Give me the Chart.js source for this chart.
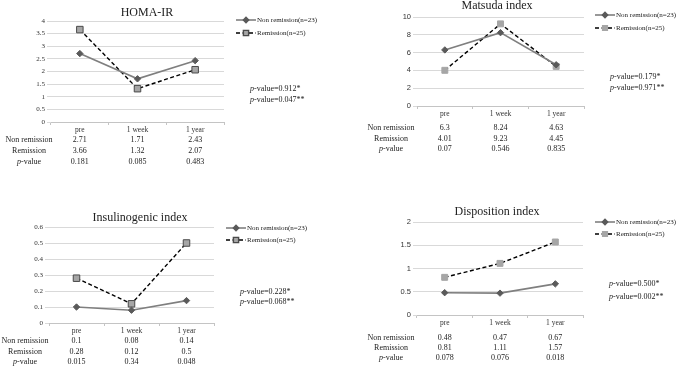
<!DOCTYPE html>
<html>
<head>
<meta charset="utf-8">
<script src="https://cdn.jsdelivr.net/npm/chart.js@4"></script>
<style>
body{margin:0;background:#fff}
#wrap{position:relative;width:678px;height:368px;overflow:hidden;background:#fff;font-family:"Liberation Serif","Times New Roman",serif;color:#222}
canvas{position:absolute}
.t{position:absolute;white-space:nowrap;line-height:1}
</style>
</head>
<body>
<div id="wrap"></div>
<script>
// data
const timePoints = ['pre', '1 week', '1 year']
const rowNames = ['Non remission', 'Remission']
const legendNames = ['Non remission(n=23)', 'Remission(n=25)']

const homaNon = [2.71, 1.71, 2.43]
const homaRem = [3.66, 1.32, 2.07]
const homaP = ['0.181', '0.085', '0.483']
const homaNotes = ['0.912*', '0.047**']

const matsudaNon = [6.3, 8.24, 4.63]
const matsudaRem = [4.01, 9.23, 4.45]
const matsudaP = ['0.07', '0.546', '0.835']
const matsudaNotes = ['0.179*', '0.971**']

const insNon = [0.1, 0.08, 0.14]
const insRem = [0.28, 0.12, 0.5]
const insP = ['0.015', '0.34', '0.048']
const insNotes = ['0.228*', '0.068**']

const dispNon = [0.48, 0.47, 0.67]
const dispRem = [0.81, 1.11, 1.57]
const dispP = ['0.078', '0.076', '0.018']
const dispNotes = ['0.500*', '0.002**']

const serif = '"Liberation Serif", "Times New Roman", serif'
const sans = '"Liberation Sans", Arial, sans-serif'
const wrap = document.getElementById('wrap')

function addText(html, x, y, size, align) {
    const d = document.createElement('div')
    d.className = 't'
    d.innerHTML = html
    d.style.left = x + 'px'
    d.style.top = y + 'px'
    d.style.fontSize = size + 'px'
    let tx = align == 'center' ? '-50%' : (align == 'right' ? '-100%' : '0')
    d.style.transform = 'translate(' + tx + ',-50%)'
    wrap.appendChild(d)
}

function panel(p) {
    const cv = document.createElement('canvas')
    cv.width = p.box[2]
    cv.height = p.box[3]
    cv.style.left = p.box[0] + 'px'
    cv.style.top = p.box[1] + 'px'
    wrap.appendChild(cv)

    // small line+marker samples for the legend
    const legendSample = {
        id: 'legendSample',
        afterDraw(chart) {
            const ctx = chart.ctx
            chart.data.datasets.forEach((ds, i) => {
                const y = p.legY[i]
                const x0 = p.legX, x1 = p.legX + 20
                ctx.save()
                ctx.strokeStyle = ds.borderColor
                ctx.lineWidth = ds.borderWidth
                ctx.setLineDash(ds.borderDash || [])
                ctx.beginPath()
                ctx.moveTo(x0, y)
                ctx.lineTo(x1, y)
                ctx.stroke()
                ctx.setLineDash([])
                ctx.fillStyle = ds.pointBackgroundColor
                ctx.strokeStyle = ds.pointBorderColor
                Chart.helpers.drawPoint(ctx, {pointStyle: ds.pointStyle, radius: ds.pointRadius * 0.8, rotation: 0, borderWidth: ds.pointBorderWidth}, (x0 + x1) / 2, y)
                ctx.restore()
            })
        }
    }

    const tickFont = {family: p.tickSans ? sans : serif, size: p.tickSans ? 7.5 : 7}
    const chart = new Chart(cv, {
        type: 'line',
        data: {
            labels: timePoints,
            datasets: [
                {
                    label: legendNames[0],
                    data: p.non,
                    borderColor: '#7f7f7f',
                    borderWidth: 1.6,
                    pointStyle: 'rectRot',
                    pointRadius: 3.2,
                    pointBackgroundColor: '#5a5a5a',
                    pointBorderColor: '#5a5a5a',
                    pointBorderWidth: 1,
                    tension: 0
                },
                {
                    label: legendNames[1],
                    data: p.rem,
                    borderColor: '#000',
                    borderWidth: 1.4,
                    borderDash: [4, 2.5],
                    pointStyle: 'rect',
                    pointRadius: p.sqR,
                    pointBackgroundColor: '#a6a6a6',
                    pointBorderColor: p.sqBorder,
                    pointBorderWidth: 1,
                    tension: 0
                }
            ]
        },
        options: {
            responsive: false,
            animation: false,
            layout: {padding: {left: 0, top: p.area[2], right: p.box[2] - p.area[1], bottom: p.box[3] - p.area[3] - 20}},
            plugins: {legend: {display: false}, tooltip: {enabled: false}},
            scales: {
                x: {
                    offset: true,
                    grid: {display: true, drawOnChartArea: false, offset: true, tickLength: 3, color: '#c4c4c4'},
                    border: {color: '#c4c4c4'},
                    ticks: {font: {family: serif, size: 7.5}, color: '#333', padding: 1, maxRotation: 0},
                    afterFit(s) { s.height = 20 }
                },
                y: {
                    min: 0,
                    max: p.ymax,
                    ticks: {stepSize: p.step, font: tickFont, color: '#333', padding: 2, callback: v => String(+v.toFixed(2))},
                    grid: {color: '#d9d9d9', tickLength: 4},
                    border: {display: false},
                    afterFit(s) { s.width = p.area[0] }
                }
            }
        },
        plugins: [legendSample]
    })

    const bx = p.box[0], by = p.box[1]
    addText(p.title, bx + p.titleXY[0], by + p.titleXY[1], 12, 'center')
    legendNames.forEach((n, i) => addText(n, bx + p.legX + 21, by + p.legY[i], 7, 'left'))
    p.notes.forEach((n, i) => addText('<i>p</i>-value=' + n, bx + p.noteX, by + p.noteY[i], 8, 'left'))

    const rows = [p.non.map(String), p.rem.map(String), p.pv]
    const names = [rowNames[0], rowNames[1], '<i>p</i>-value']
    rows.forEach((vals, r) => {
        addText(names[r], bx + p.labelX, by + p.rows[r], 8, 'center')
        vals.forEach((v, i) => {
            const x = chart.scales.x.getPixelForValue(i)
            addText(v, bx + x, by + p.rows[r], 8, 'center')
        })
    })
}

panel({
    title: 'HOMA-IR', non: homaNon, rem: homaRem, pv: homaP, notes: homaNotes, ymax: 4, step: 0.5,
    box: [0, 0, 340, 184], area: [51, 224, 21, 122], titleXY: [147, 12],
    legX: 236, legY: [20, 33], noteX: 250, noteY: [89, 100], rows: [140, 151, 162], labelX: 29,
    sqR: 4.6, sqBorder: '#4a4a4a'
})
panel({
    title: 'Matsuda index', non: matsudaNon, rem: matsudaRem, pv: matsudaP, notes: matsudaNotes, ymax: 10, step: 2, tickSans: true,
    box: [340, 0, 338, 184], area: [77, 244, 17, 106], titleXY: [157, 5],
    legX: 255, legY: [15, 28], noteX: 270, noteY: [77, 88], rows: [128, 139, 149], labelX: 51,
    sqR: 4.2, sqBorder: '#a6a6a6'
})
panel({
    title: 'Insulinogenic index', non: insNon, rem: insRem, pv: insP, notes: insNotes, ymax: 0.6, step: 0.1,
    box: [0, 184, 340, 184], area: [49, 214, 43, 139], titleXY: [140, 33],
    legX: 226, legY: [44, 56], noteX: 240, noteY: [108, 118], rows: [157, 168, 178], labelX: 25,
    sqR: 4.6, sqBorder: '#4a4a4a'
})
panel({
    title: 'Disposition index', non: dispNon, rem: dispRem, pv: dispP, notes: dispNotes, ymax: 2, step: 0.5, tickSans: true,
    box: [340, 184, 338, 184], area: [77, 243, 38, 131], titleXY: [157, 27],
    legX: 255, legY: [38, 50], noteX: 269, noteY: [100, 113], rows: [154, 164, 174], labelX: 51,
    sqR: 4.2, sqBorder: '#a6a6a6'
})
</script>
</body>
</html>
